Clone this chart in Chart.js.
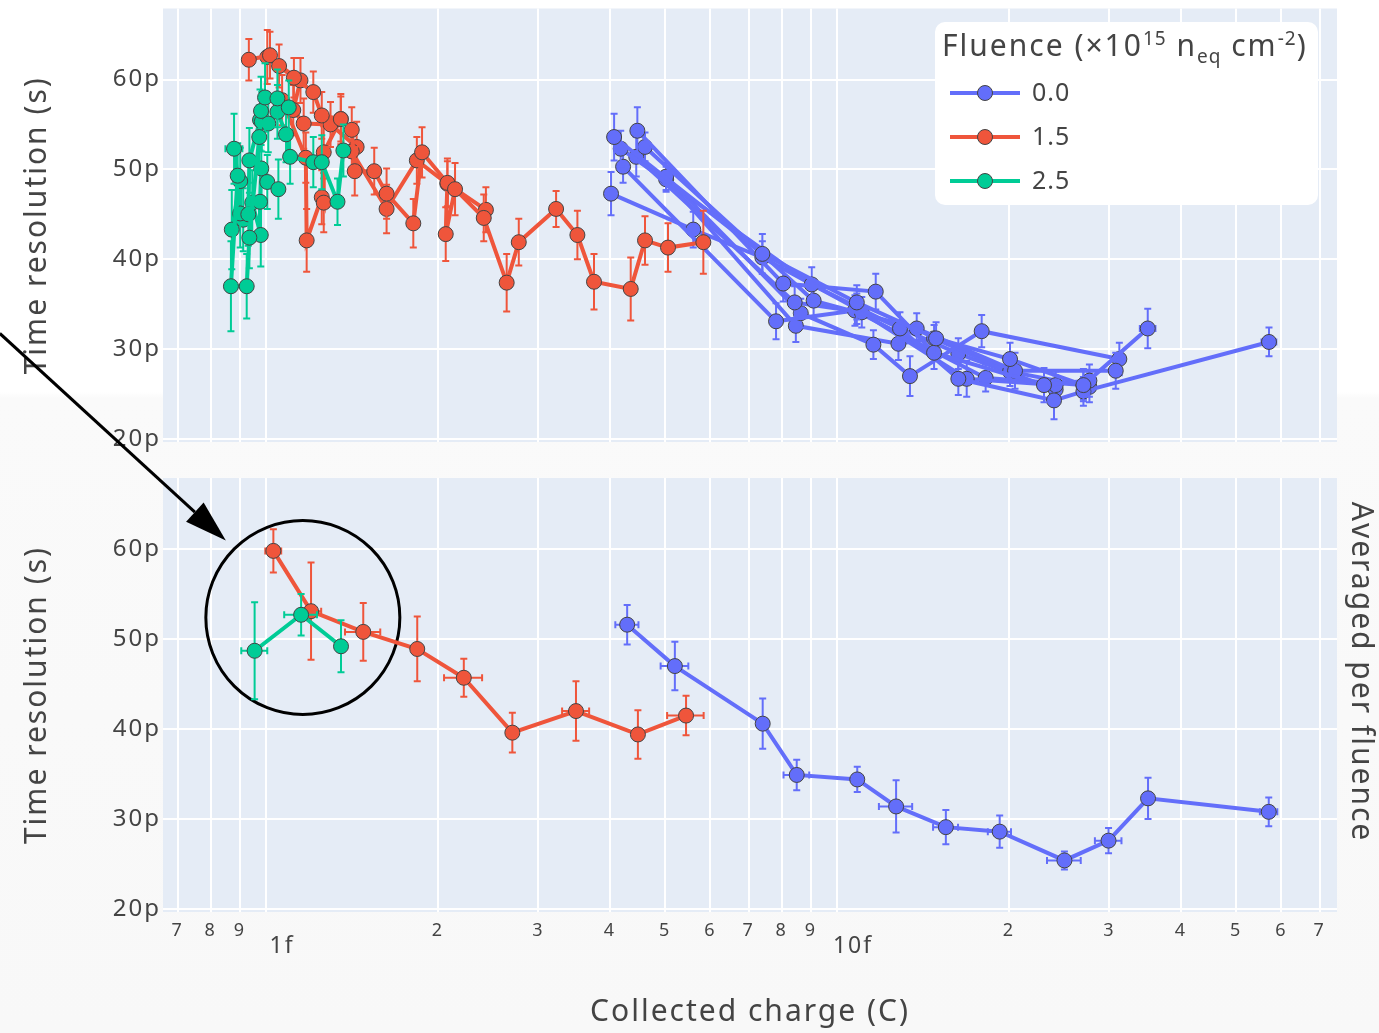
<!DOCTYPE html>
<html>
<head>
<meta charset="utf-8">
<title>Time resolution vs collected charge</title>
<script src="https://cdn.jsdelivr.net/npm/chart.js@4.4.0/dist/chart.umd.min.js"></script>
<style>
	html, body { margin: 0; padding: 0; }
	body {
		width: 1379px; height: 1033px; position: relative; overflow: hidden;
		background: linear-gradient(to bottom, #ffffff 0px, #ffffff 392px, #fafafa 398px, #f8f8f8 1033px);
		font-family: "Noto Sans", sans-serif; color: #444;
	}
	canvas { position: absolute; left: 0; top: 0; }
	#legend {
		position: absolute; left: 935px; top: 22px; width: 383px; height: 183px;
		background: #fff; border-radius: 10px; z-index: 5;
	}
	#legend .ltitle { position: absolute; left: 7px; top: 2px; font-size: 30px; letter-spacing: 2px; white-space: nowrap; }
	#legend sup, #legend sub { font-size: 19px; letter-spacing: 1px; }
	.litem { position: absolute; left: 0; width: 383px; height: 40px; }
	.litem .ln { position: absolute; left: 15px; width: 70px; height: 4px; top: 18px; }
	.litem .mk { position: absolute; left: 42px; top: 12px; width: 14px; height: 14px; border-radius: 50%; border: 1px solid #444; }
	.litem .lb { position: absolute; left: 97px; top: 1px; font-size: 25px; letter-spacing: 1px; }
</style>
</head>
<body>
<canvas id="topChart" width="1379" height="460"></canvas>
<canvas id="botChart" width="1379" height="1033"></canvas>
<div id="legend">
	<div class="ltitle">Fluence (×10<sup>15</sup> n<sub>eq</sub> cm<sup>-2</sup>)</div>
</div>

<script>
	// axes
	const xRange = [0.66, 75.1];          // fC
	const yRange = [19.67, 67.9];         // ps
	const xTickValues = [0.7, 0.8, 0.9, 1, 2, 3, 4, 5, 6, 7, 8, 9, 10, 20, 30, 40, 50, 60, 70];
	const xTickLabels = ['7', '8', '9', '', '2', '3', '4', '5', '6', '7', '8', '9', '', '2', '3', '4', '5', '6', '7'];
	const xDecadeValues = [1, 10];
	const xDecadeLabels = ['1f', '10f'];
	const yTickValues = [20, 30, 40, 50, 60];

	const fluenceLabels = ['0.0', '1.5', '2.5'];
	const fluenceColors = ['#636efa', '#ef553b', '#00cc96'];

	// points are [charge (fC), time resolution (ps), y error, x error]
	// top panel, fluence 0.0 (one line per device)
	const top00 = [
		[[4.07, 53.6, 2.6], [7.40, 40.6, 2.2], [10.83, 35.2, 1.9], [14.91, 31.2, 1.8], [20.09, 28.9, 1.8], [27.01, 26.0, 1.8], [35.01, 32.3, 2.2, 1.1]],
		[[4.47, 54.3, 2.6], [8.05, 37.3, 2.0], [11.69, 36.4, 2.0], [14.79, 29.6, 1.8], [23.04, 26.0, 1.9], [27.67, 26.5, 1.8]],
		[[4.18, 52.3, 2.0], [9.03, 37.2, 1.9], [12.89, 32.3, 1.8], [16.31, 26.7, 1.8], [23.99, 24.3, 2.1], [27.01, 25.3, 1.6], [57.09, 30.8, 1.6, 1.7]],
		[[4.61, 52.5, 1.6], [9.10, 35.4, 1.8], [13.79, 32.3, 1.7], [20.50, 27.6, 2.0], [30.77, 27.6, 2.0]],
		[[4.45, 51.4, 2.2], [8.43, 35.2, 1.8], [11.05, 34.1, 1.7], [16.87, 26.7, 2.0], [24.15, 26.0, 1.5]],
		[[4.22, 50.3, 1.8], [7.82, 33.1, 2.0], [10.75, 34.3, 1.7], [18.21, 26.8, 1.5], [27.01, 26.0, 1.6]],
		[[5.02, 49.2, 1.5], [8.64, 34.0, 1.6], [11.58, 30.5, 1.6], [13.42, 27.0, 2.2], [17.92, 32.0, 1.8], [31.22, 28.9, 1.8]],
		[[5.02, 48.9, 1.4], [8.47, 32.6, 1.8], [12.81, 30.6, 1.8], [14.79, 31.2, 1.5], [20.09, 27.5, 1.6], [27.67, 25.8, 1.7]],
		[[4.02, 47.3, 2.4], [5.60, 43.3, 2.0], [7.40, 40.2, 1.8], [10.83, 34.5, 1.7], [16.31, 29.5, 1.7], [24.15, 25.5, 1.6]]
	];
	// top panel, fluence 1.5
	const top15 = [
		[[0.933, 62.2, 2.3], [1.016, 62.7, 2.6], [1.054, 61.5, 2.4], [1.119, 60.2, 2.2], [1.210, 58.6, 2.3], [1.252, 56.0, 2.6],
		 [1.352, 55.6, 2.8], [1.413, 54.4, 2.5], [1.430, 49.8, 2.7], [1.547, 49.8, 2.6], [1.626, 47.3, 2.8], [1.811, 44.0, 2.7],
		 [1.876, 51.9, 2.8], [2.078, 48.5, 2.7], [2.064, 42.8, 3.0], [2.143, 47.8, 2.9], [2.406, 44.6, 2.6], [2.639, 37.4, 3.2],
		 [2.771, 41.9, 2.6], [3.221, 45.6, 2.0], [3.510, 42.7, 2.7], [3.753, 37.5, 3.1], [4.352, 36.7, 3.5], [4.610, 42.1, 2.7],
		 [5.058, 41.3, 2.7], [5.833, 41.9, 3.5]],
		[[1.005, 62.5, 3.0], [1.149, 59.9, 2.5], [1.116, 56.6, 2.8], [1.164, 55.1, 2.8], [1.297, 55.0, 2.5], [1.441, 52.5, 2.8],
		 [1.413, 52.0, 2.6], [1.626, 45.6, 2.7], [1.837, 51.0, 2.6], [2.078, 48.4, 2.5], [2.427, 45.5, 2.5]],
		[[1.067, 57.7, 2.8], [1.174, 51.3, 2.8], [1.178, 42.1, 3.5], [1.252, 46.9, 3.0], [1.262, 46.3, 3.3], [1.262, 51.9, 2.9], [1.352, 55.6, 2.5]]
	];
	// top panel, fluence 2.5
	const top25 = [
		[[0.879, 52.3, 3.9, 0.03], [0.892, 49.3, 3.6], [0.868, 37.0, 5.0], [0.925, 37.0, 3.6], [0.935, 42.4, 3.4], [0.973, 53.6, 3.5],
		 [0.980, 56.5, 3.8], [0.996, 58.0, 3.8], [1.047, 57.9, 3.2], [1.096, 56.9, 3.0]],
		[[0.871, 43.3, 4.4], [0.901, 48.7, 3.7], [0.901, 45.1, 3.8], [0.931, 45.0, 3.5], [0.935, 51.0, 3.6], [0.976, 55.5, 3.4],
		 [0.983, 55.3, 3.3], [1.009, 55.1, 3.2], [1.047, 56.4, 3.0], [1.084, 53.9, 3.1], [1.102, 51.4, 3.0], [1.210, 50.8, 2.8],
		 [1.252, 50.8, 3.0], [1.334, 46.4, 2.6], [1.366, 52.1, 2.9]],
		[[0.912, 44.4, 3.5], [0.946, 46.3, 3.6], [0.979, 42.7, 3.5], [0.976, 46.4, 3.3], [0.981, 50.1, 3.4], [1.005, 48.6, 3.0], [1.051, 47.8, 3.3]]
	];

	// bottom panel, averaged per fluence
	const avg00 = [[4.29, 51.6, 2.2, 0.20], [5.20, 47.0, 2.7, 0.29], [7.41, 40.6, 2.8], [8.50, 34.9, 1.7, 0.44], [10.85, 34.4, 1.4],
		[12.69, 31.4, 2.9, 0.85], [15.51, 29.1, 1.9, 0.78], [19.27, 28.6, 1.8, 0.9], [25.02, 25.4, 1.0, 1.7], [29.89, 27.6, 1.4, 1.6],
		[35.05, 32.3, 2.3], [57.03, 30.8, 1.6, 2.0]];
	const avg15 = [[1.030, 59.8, 2.4, 0.033], [1.199, 53.1, 5.4, 0.05], [1.48, 50.8, 3.2, 0.105], [1.84, 48.9, 3.6], [2.22, 45.7, 2.1, 0.17],
		[2.70, 39.6, 2.2], [3.49, 42.0, 3.3, 0.19], [4.48, 39.4, 2.7], [5.44, 41.5, 2.2, 0.4]];
	const avg25 = [[0.955, 48.7, 5.4, 0.05], [1.152, 52.7, 2.3, 0.076], [1.353, 49.2, 2.9]];

	// annotation: circle round the low charge points, arrow pointing at it
	const circleCenter = [1.16, 52.4];
	const circleRadius = 97;
	const sideTitle = 'Averaged per fluence';

	Chart.defaults.font.family = '"Noto Sans", sans-serif';
	Chart.defaults.color = '#444';

	function makeDataset(points, idx, axis) {
		const color = fluenceColors[idx];
		return {
			label: fluenceLabels[idx],
			data: points.map(p => ({ x: p[0], y: p[1], ey: p[2] || 0, ex: p[3] || 0 })),
			yAxisID: axis,
			showLine: true,
			borderColor: color,
			backgroundColor: color,
			borderWidth: 4,
			pointRadius: 7.5,
			pointBackgroundColor: color,
			pointBorderColor: '#444',
			pointBorderWidth: 1,
			order: 3 - idx
		};
	}

	// wider text, closer to the rounded font of the original
	const letterSpacing = {
		id: 'letterSpacing',
		beforeUpdate(chart) { chart.ctx.letterSpacing = '2px'; },
		beforeDraw(chart) { chart.ctx.letterSpacing = '2px'; }
	};

	const plotBg = {
		id: 'plotBg',
		beforeDraw(chart) {
			const { ctx, chartArea: a } = chart;
			ctx.save();
			ctx.fillStyle = '#e5ecf6';
			ctx.fillRect(a.left, a.top, a.right - a.left, a.bottom - a.top);
			ctx.restore();
		}
	};

	const errorBars = {
		id: 'errorBars',
		beforeDatasetDraw(chart, args) {
			const ds = chart.data.datasets[args.index];
			const xs = args.meta.xScale, ys = args.meta.yScale;
			const ctx = chart.ctx, a = chart.chartArea, cap = 3.5;
			ctx.save();
			ctx.beginPath();
			ctx.rect(a.left, a.top, a.right - a.left, a.bottom - a.top);
			ctx.clip();
			ctx.strokeStyle = ds.borderColor;
			ctx.lineWidth = 2;
			ds.data.forEach(d => {
				const px = xs.getPixelForValue(d.x), py = ys.getPixelForValue(d.y);
				ctx.beginPath();
				if (d.ey) {
					const y1 = ys.getPixelForValue(d.y + d.ey), y2 = ys.getPixelForValue(d.y - d.ey);
					ctx.moveTo(px, y1); ctx.lineTo(px, y2);
					ctx.moveTo(px - cap, y1); ctx.lineTo(px + cap, y1);
					ctx.moveTo(px - cap, y2); ctx.lineTo(px + cap, y2);
				}
				if (d.ex) {
					const x1 = xs.getPixelForValue(d.x - d.ex), x2 = xs.getPixelForValue(d.x + d.ex);
					ctx.moveTo(x1, py); ctx.lineTo(x2, py);
					ctx.moveTo(x1, py - cap); ctx.lineTo(x1, py + cap);
					ctx.moveTo(x2, py - cap); ctx.lineTo(x2, py + cap);
				}
				ctx.stroke();
			});
			ctx.restore();
		}
	};

	function xScaleOptions(showLabels) {
		return {
			type: 'logarithmic',
			min: xRange[0], max: xRange[1],
			grid: { color: '#ffffff', lineWidth: 2, drawTicks: false },
			border: { display: false },
			ticks: {
				display: showLabels, autoSkip: false, maxRotation: 0, padding: 8,
				font: { size: 18 },
				callback: (v, i) => xTickLabels[i]
			},
			afterBuildTicks: s => { s.ticks = xTickValues.map(v => ({ value: v })); },
			afterFit: s => {
				s.height = showLabels ? 121 : 18;
				s.paddingLeft = 0; s.paddingRight = 0;
			}
		};
	}

	function yScaleOptions() {
		return {
			min: yRange[0], max: yRange[1],
			grid: { color: '#ffffff', lineWidth: 2, drawTicks: false },
			border: { display: false },
			ticks: { padding: 2, font: { size: 24 }, callback: v => v + 'p' },
			afterBuildTicks: s => { s.ticks = yTickValues.map(v => ({ value: v })); },
			afterFit: s => {
				s.width = 163;
				s.paddingTop = 0; s.paddingBottom = 0;
			},
			title: { display: true, text: 'Time resolution (s)', font: { size: 30 }, padding: { top: 19 } }
		};
	}

	const baseOptions = {
		responsive: false,
		devicePixelRatio: 1,
		animation: false,
		events: [],
		plugins: { legend: { display: false }, tooltip: { enabled: false } }
	};

	// top panel: every device
	const topSets = [];
	top00.forEach(s => topSets.push(makeDataset(s, 0, 'y')));
	top15.forEach(s => topSets.push(makeDataset(s, 1, 'y')));
	top25.forEach(s => topSets.push(makeDataset(s, 2, 'y')));

	new Chart(document.getElementById('topChart'), {
		type: 'scatter',
		data: { datasets: topSets },
		options: Object.assign({}, baseOptions, {
			layout: { padding: { left: 0, right: 42, top: 8, bottom: 0 } },
			scales: { x: xScaleOptions(false), y: yScaleOptions() }
		}),
		plugins: [letterSpacing, plotBg, errorBars]
	});

	// bottom panel: averaged per fluence
	const extraText = {
		id: 'extraText',
		afterDraw(chart) {
			const ctx = chart.ctx, xs = chart.scales.x, a = chart.chartArea;
			ctx.save();
			ctx.fillStyle = '#444';
			ctx.textAlign = 'center';
			ctx.textBaseline = 'middle';
			ctx.font = '23px "Noto Sans", sans-serif';
			xDecadeValues.forEach((v, i) => ctx.fillText(xDecadeLabels[i], xs.getPixelForValue(v) + 16, 946));
			// right hand side panel title
			ctx.font = '30px "Noto Sans", sans-serif';
			ctx.translate(a.right + 24, (a.top + a.bottom) / 2 - 23);
			ctx.rotate(Math.PI / 2);
			ctx.fillText(sideTitle, 0, 0);
			ctx.restore();
		}
	};

	const annotation = {
		id: 'annotation',
		beforeDatasetsDraw(chart) {
			const ctx = chart.ctx;
			const cx = chart.scales.x.getPixelForValue(circleCenter[0]);
			const cy = chart.scales.y.getPixelForValue(circleCenter[1]);
			ctx.save();
			ctx.strokeStyle = '#000';
			ctx.lineWidth = 3;
			ctx.beginPath();
			ctx.arc(cx, cy, circleRadius, 0, 2 * Math.PI);
			ctx.stroke();
			ctx.restore();
		},
		afterDraw(chart) {
			const ctx = chart.ctx;
			const cx = chart.scales.x.getPixelForValue(circleCenter[0]);
			const cy = chart.scales.y.getPixelForValue(circleCenter[1]);
			const tipX = cx - 77, tipY = cy - 77;
			const tailX = tipX - 226, tailY = tipY - 207;
			const len = Math.hypot(tipX - tailX, tipY - tailY);
			const ux = (tipX - tailX) / len, uy = (tipY - tailY) / len;
			const bx = tipX - 42 * ux, by = tipY - 42 * uy;
			ctx.save();
			ctx.strokeStyle = '#000';
			ctx.fillStyle = '#000';
			ctx.lineWidth = 3;
			ctx.beginPath();
			ctx.moveTo(tailX, tailY);
			ctx.lineTo(bx, by);
			ctx.stroke();
			ctx.beginPath();
			ctx.moveTo(tipX, tipY);
			ctx.lineTo(bx - 13 * uy, by + 13 * ux);
			ctx.lineTo(bx + 13 * uy, by - 13 * ux);
			ctx.closePath();
			ctx.fill();
			ctx.restore();
		}
	};

	const xBottom = xScaleOptions(true);
	xBottom.title = { display: true, text: 'Collected charge (C)', font: { size: 30 }, padding: { bottom: 3 } };

	new Chart(document.getElementById('botChart'), {
		type: 'scatter',
		data: { datasets: [makeDataset(avg00, 0, 'y'), makeDataset(avg15, 1, 'y'), makeDataset(avg25, 2, 'y')] },
		options: Object.assign({}, baseOptions, {
			layout: { padding: { left: 0, right: 42, top: 478, bottom: 0 } },
			scales: { x: xBottom, y: yScaleOptions() }
		}),
		plugins: [letterSpacing, plotBg, errorBars, annotation, extraText]
	});

	// html legend
	const legend = document.getElementById('legend');
	fluenceLabels.forEach((lab, i) => {
		const item = document.createElement('div');
		item.className = 'litem';
		item.style.top = (51 + i * 44) + 'px';
		item.innerHTML = `
			<span class="ln" style="background:${fluenceColors[i]}"></span>
			<span class="mk" style="background:${fluenceColors[i]}"></span>
			<span class="lb">${lab}</span>`;
		legend.appendChild(item);
	});
</script>
</body>
</html>
